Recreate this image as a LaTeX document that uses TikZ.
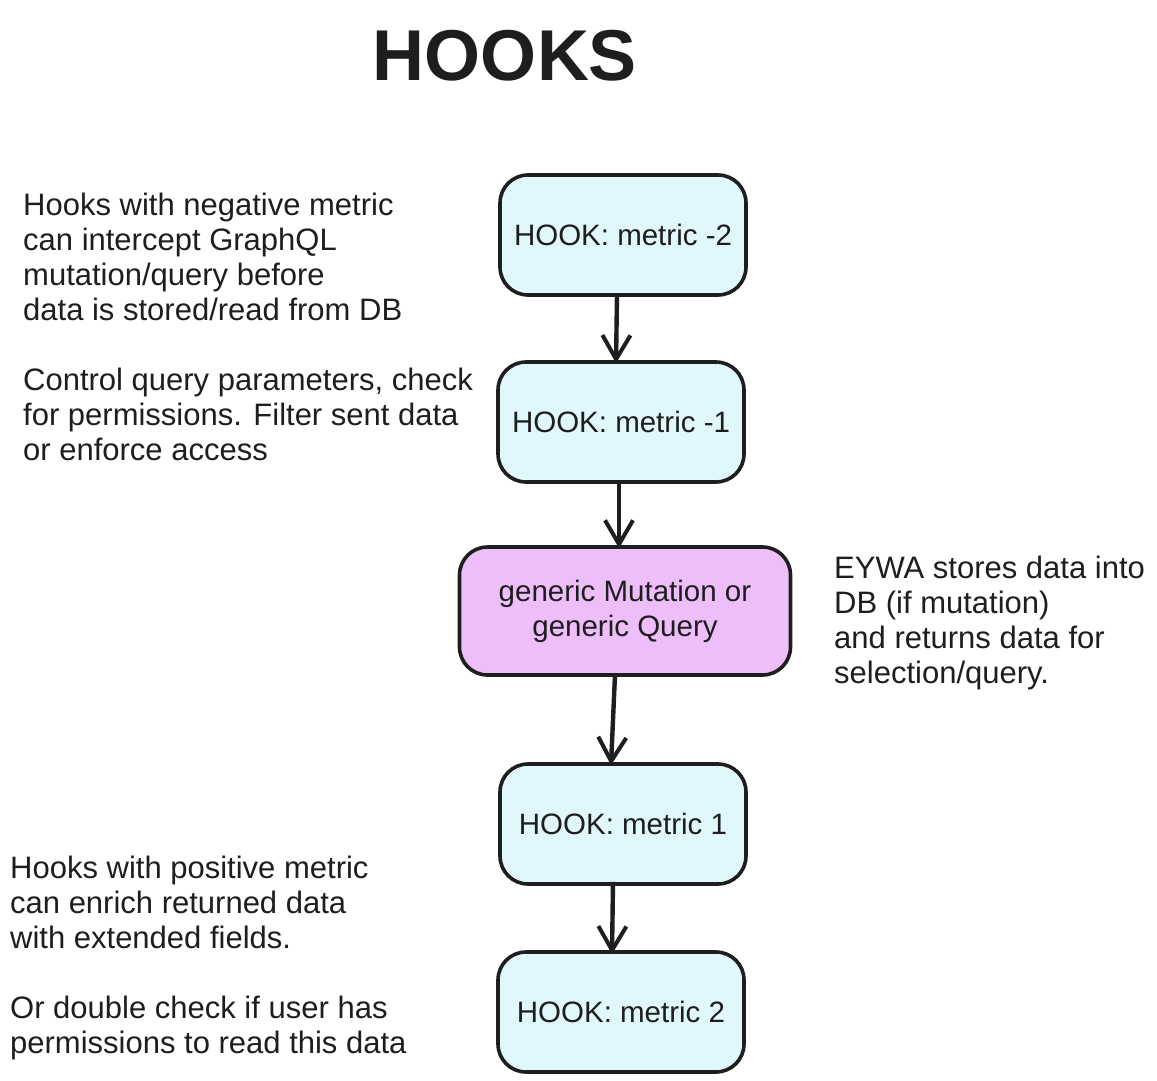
\documentclass[tikz,border=0pt]{standalone}
\usepackage{fontspec}
\setmainfont{Liberation Sans}
\usetikzlibrary{arrows.meta}
\definecolor{ink}{HTML}{1E1E1E}
\definecolor{hookfill}{HTML}{E0F8FB}
\definecolor{genfill}{HTML}{EEBEFA}
\tikzset{
  hookbox/.style={draw=ink, line width=3.6pt, rounded corners=28pt, fill=hookfill,
    minimum width=246pt, minimum height=120pt, align=center, inner sep=0pt,
    font=\fontsize{29.5}{35}\selectfont, text=ink},
  genbox/.style={hookbox, fill=genfill, minimum width=331pt, minimum height=128pt},
  note/.style={anchor=north west, align=left, inner sep=0pt,
    font=\fontsize{31}{35}\selectfont, text=ink},
  flow/.style={draw=ink, line width=4.4pt, -{Straight Barb[length=24pt,width=28pt,line width=4pt]}},
}
\begin{document}
\begin{tikzpicture}[x=1pt,y=-1pt]
\useasboundingbox[fill=white] (0,0) rectangle (1157,1081);
\node[text=ink, font=\fontsize{72}{80}\selectfont\bfseries] (title) at (505,56) {HOOKS};

\node[hookbox] (h1) at (623,235) {HOOK: metric -2};
\node[hookbox] (h2) at (621,422) {HOOK: metric -1};
\node[genbox]  (g)  at (625,611) {generic Mutation or\\generic Query};
\node[hookbox] (h3) at (623,824) {HOOK: metric 1};
\node[hookbox] (h4) at (621,1012) {HOOK: metric 2};

\draw[flow] ([xshift=-6pt,yshift=2pt]h1.south) -- ([xshift=-5pt,yshift=-3pt]h2.north);
\draw[flow] ([xshift=-2pt,yshift=2pt]h2.south) -- ([xshift=-6pt,yshift=-3pt]g.north);
\draw[flow] ([xshift=-10pt,yshift=2pt]g.south) -- ([xshift=-12pt,yshift=-3pt]h3.north);
\draw[flow] ([xshift=-10pt,yshift=4pt]h3.south) -- ([xshift=-9pt,yshift=-4pt]h4.north);

\node[note] (n1) at (23,193) {Hooks with negative metric\\can intercept GraphQL\\mutation/query before\\data is stored/read from DB};
\node[note] (n2) at (23,368) {Control query parameters, check\\for permissions. Filter sent data\\or enforce access};
\node[note] (n3) at (834,556) {EYWA stores data into\\DB (if mutation)\\and returns data for\\selection/query.};
\node[note] (n4) at (10,856) {Hooks with positive metric\\can enrich returned data\\with extended fields.\\[35pt]Or double check if user has\\permissions to read this data};
\end{tikzpicture}
\end{document}
